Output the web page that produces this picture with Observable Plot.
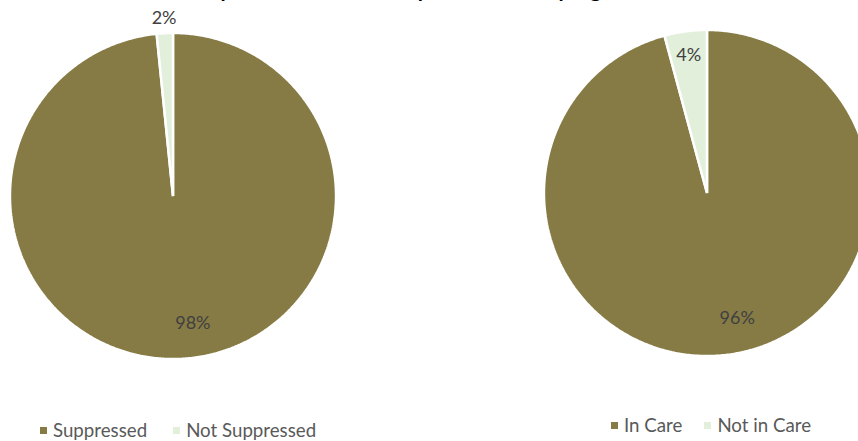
<!DOCTYPE html>
<html>
<head>
<meta charset="utf-8">
<script src="https://cdn.jsdelivr.net/npm/d3@7"></script>
<script src="https://cdn.jsdelivr.net/npm/@observablehq/plot@0.6"></script>
<style>
  html, body { margin: 0; padding: 0; background: #fff; }
  #stage { position: relative; width: 858px; height: 441px; overflow: hidden; font-family: Lato, "Open Sans", sans-serif; }
  .pie { position: absolute; }
  .title-clip { position: absolute; left: 0; top: 0; width: 858px; height: 6px; overflow: hidden; }
  .title-clip div { position: absolute; left: 95px; top: -23px; text-align: left; font: bold 21px Lato, sans-serif; color: #000; line-height: 24px; white-space: nowrap; }
  .legend { position: absolute; display: flex; align-items: center; font-size: 18.7px; color: #595959; white-space: nowrap; }
  .legend .sw { display: inline-block; width: 7px; height: 7px; margin-right: 6px; }
  .legend .item { display: flex; align-items: center; }
</style>
</head>
<body>
<div id="stage">
  <div class="title-clip"><div>Outcomes of patients at clinic compared with the program, 2021</div></div>
</div>
<script>
// ---- data ----
const vsCategories = ["Suppressed", "Not Suppressed"];
const vsValues = [98.4, 1.6];
const careCategories = ["In Care", "Not in Care"];
const careValues = [95.8, 4.2];
const sliceColors = ["#867B45", "#E2EFDA"];

const stage = document.getElementById("stage");
const SIZE = 375;          // svg size in px
const EXT = 1.15;          // domain extent (radius = 1)

function piePlot(categories, values, smallOutside) {
  const total = d3.sum(values);
  const arcs = d3.pie().sort(null).startAngle(0).endAngle(2 * Math.PI)(values);
  const pts = [];
  arcs.forEach((a, i) => {
    const cat = categories[i];
    pts.push({slice: cat, x: 0, y: 0});
    const n = Math.max(4, Math.ceil((a.endAngle - a.startAngle) / 0.01));
    for (let k = 0; k <= n; k++) {
      const t = a.startAngle + (a.endAngle - a.startAngle) * k / n;
      pts.push({slice: cat, x: Math.sin(t), y: Math.cos(t)});
    }
  });
  const labels = arcs.map((a, i) => {
    const frac = values[i] / total;
    let mid = (a.startAngle + a.endAngle) / 2;
    let r;
    if (frac > 0.5) { mid -= 6 * Math.PI / 180; r = 0.79; }
    else if (smallOutside) { r = 1.09; }
    else { r = 0.85; }
    return {x: r * Math.sin(mid), y: r * Math.cos(mid), text: Math.round(values[i] / total * 100) + "%"};
  });
  return Plot.plot({
    width: SIZE, height: SIZE,
    margin: 0,
    x: {domain: [-EXT, EXT], axis: null},
    y: {domain: [-EXT, EXT], axis: null},
    color: {domain: categories, range: sliceColors},
    style: {background: "transparent", overflow: "visible"},
    marks: [
      Plot.line(pts, {x: "x", y: "y", z: "slice", fill: "slice", stroke: "white", strokeWidth: 2.5, strokeLinejoin: "miter", curve: "linear-closed"}),
      Plot.text(labels, {x: "x", y: "y", text: "text", fill: "#404040", fontSize: 18, fontFamily: "Lato, sans-serif"})
    ]
  });
}

function place(el, left, top) {
  el.classList.add("pie");
  el.style.left = left + "px";
  el.style.top = top + "px";
  stage.appendChild(el);
}

place(piePlot(vsCategories, vsValues, true), -15, 8);
place(piePlot(careCategories, careValues, false), 519, 5);

function legend(categories, left, top, gap) {
  const d = document.createElement("div");
  d.className = "legend";
  d.style.left = left + "px";
  d.style.top = top + "px";
  categories.forEach((c, i) => {
    const it = document.createElement("span");
    it.className = "item";
    if (i > 0) it.style.marginLeft = gap + "px";
    const sw = document.createElement("span");
    sw.className = "sw";
    sw.style.background = sliceColors[i];
    it.appendChild(sw);
    it.appendChild(document.createTextNode(c));
    d.appendChild(it);
  });
  stage.appendChild(d);
}
legend(vsCategories, 40, 419, 26);
legend(careCategories, 611, 414, 22);
</script>
</body>
</html>
